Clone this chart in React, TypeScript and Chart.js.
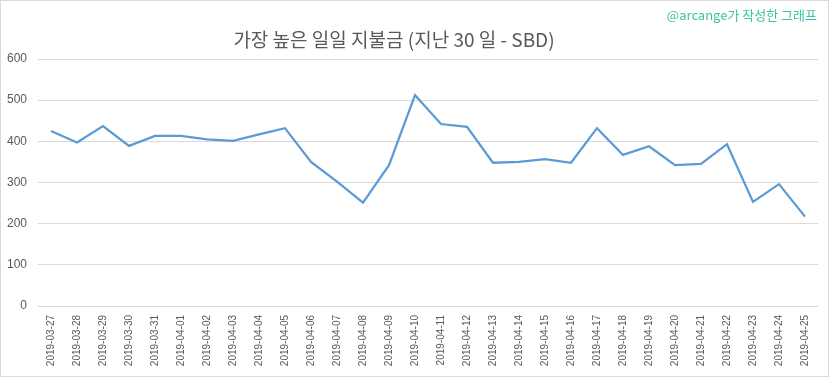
import React, { useEffect, useRef } from "react";
import { Chart, registerables } from "chart.js";

Chart.register(...registerables);

const TITLE = "가장 높은 일일 지불금 (지난 30 일 - SBD)";
const WATERMARK = "@arcange가 작성한 그래프";

const dates = [
  "2019-03-27", "2019-03-28", "2019-03-29", "2019-03-30", "2019-03-31",
  "2019-04-01", "2019-04-02", "2019-04-03", "2019-04-04", "2019-04-05",
  "2019-04-06", "2019-04-07", "2019-04-08", "2019-04-09", "2019-04-10",
  "2019-04-11", "2019-04-12", "2019-04-13", "2019-04-14", "2019-04-15",
  "2019-04-16", "2019-04-17", "2019-04-18", "2019-04-19", "2019-04-20",
  "2019-04-21", "2019-04-22", "2019-04-23", "2019-04-24", "2019-04-25",
];

const payouts = [
  425, 397, 437, 389, 413,
  413, 405, 401, 417, 432,
  350, 302, 251, 342, 512,
  442, 435, 348, 350, 357,
  348, 432, 367, 388, 342,
  345, 393, 253, 296, 217,
];

const yTicks = [0, 100, 200, 300, 400, 500, 600];

const W = 833;
const H = 379;

const decorPlugin = {
  id: "decor",
  beforeDraw(chart: any) {
    const ctx = chart.ctx;
    ctx.save();
    ctx.fillStyle = "#ffffff";
    ctx.fillRect(0, 0, chart.width, chart.height);
    ctx.restore();
  },
  afterDraw(chart: any) {
    const ctx = chart.ctx;
    ctx.save();
    ctx.strokeStyle = "#d9d9d9";
    ctx.lineWidth = 1;
    ctx.strokeRect(0.5, 0.5, 828, 376);
    ctx.fillStyle = "#595959";
    ctx.font = '19px "Noto Sans CJK KR"';
    ctx.textAlign = "center";
    ctx.textBaseline = "middle";
    ctx.fillText(TITLE, 394, 40);
    ctx.fillStyle = "#3cc3a6";
    ctx.font = '13px "Noto Sans CJK KR"';
    ctx.textAlign = "right";
    ctx.fillText(WATERMARK, 817, 15);
    ctx.restore();
  },
};

export default function App() {
  const ref = useRef<HTMLCanvasElement | null>(null);
  useEffect(() => {
    document.body.style.margin = "0";
    const canvas = ref.current;
    if (!canvas) return;
    const chart = new Chart(canvas, {
      type: "line",
      data: {
        labels: dates,
        datasets: [
          {
            data: payouts,
            borderColor: "#5b9bd5",
            borderWidth: 2.25,
            pointRadius: 0,
            tension: 0,
            fill: false,
          },
        ],
      },
      options: {
        animation: false,
        responsive: false,
        devicePixelRatio: 1,
        layout: { padding: { top: 59, right: 15, left: 0, bottom: 0 } },
        plugins: {
          legend: { display: false },
          title: { display: false },
          tooltip: { enabled: false },
        },
        scales: {
          x: {
            offset: true,
            grid: { display: false, drawTicks: false },
            border: { display: false },
            ticks: {
              autoSkip: false,
              maxRotation: 90,
              minRotation: 90,
              padding: 9,
              color: "#595959",
              font: { family: "Liberation Sans", size: 10 },
            },
            afterFit: (scale: any) => {
              scale.height = 73;
            },
          },
          y: {
            min: 0,
            max: 600,
            afterBuildTicks: (scale: any) => {
              scale.ticks = yTicks.map((v) => ({ value: v }));
            },
            grid: { color: "#d9d9d9", lineWidth: 1, drawTicks: false },
            border: { display: false },
            ticks: {
              padding: 11,
              color: "#595959",
              font: { family: "Liberation Sans", size: 12 },
            },
            afterFit: (scale: any) => {
              scale.width = 38;
            },
          },
        },
      },
      plugins: [decorPlugin],
    });
    return () => chart.destroy();
  }, []);
  return (
    <div style={{ position: "fixed", left: 0, top: 0, width: W, height: H }}>
      <canvas ref={ref} width={W} height={H} style={{ display: "block" }} />
    </div>
  );
}
